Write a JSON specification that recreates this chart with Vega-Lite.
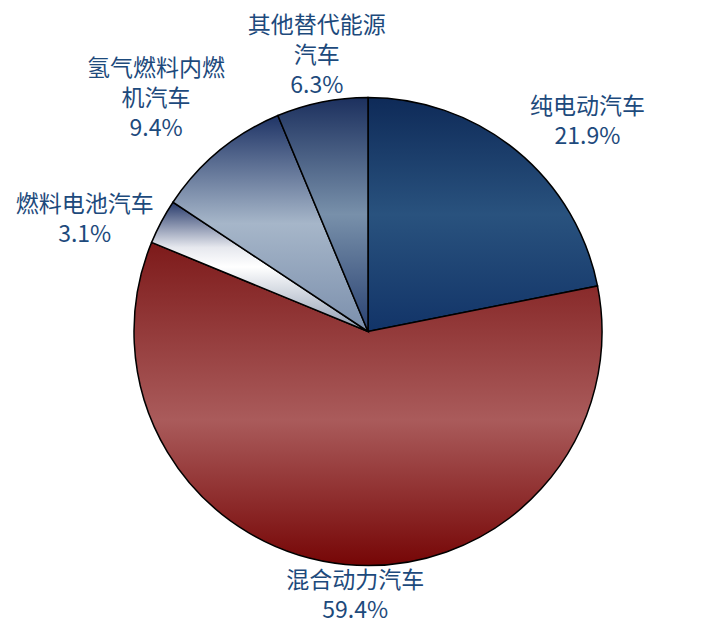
{
  "$schema": "https://vega.github.io/schema/vega-lite/v6.json",
  "width": 702,
  "height": 621,
  "autosize": {"type": "fit", "contains": "padding"},
  "padding": {"left": 32, "top": 35, "right": 0, "bottom": 0},
  "background": "white",
  "config": {"view": {"stroke": null}},
  "data": {
    "values": [
      {"order": 1, "cat": "纯电动汽车", "label": "纯电动汽车\n21.9%", "value": 21.9},
      {"order": 2, "cat": "混合动力汽车", "label": "混合动力汽车\n59.4%", "value": 59.4},
      {"order": 3, "cat": "燃料电池汽车", "label": "燃料电池汽车\n3.1%", "value": 3.1},
      {"order": 4, "cat": "氢气燃料内燃机汽车", "label": "氢气燃料内燃\n机汽车\n9.4%", "value": 9.4},
      {"order": 5, "cat": "其他替代能源汽车", "label": "其他替代能源\n汽车\n6.3%", "value": 6.3}
    ]
  },
  "transform": [
    {"window": [{"op": "sum", "field": "value", "as": "end"}], "sort": [{"field": "order"}], "frame": [null, 0]},
    {"calculate": "datum.end - datum.value", "as": "start"},
    {"calculate": "datum.end - datum.value / 2", "as": "mid"}
  ],
  "layer": [
    {
      "transform": [{"filter": "datum.order == 1"}],
      "mark": {"type": "arc", "radius": 234, "stroke": "#000000", "strokeWidth": 1.5,
        "fill": {"gradient": "linear", "x1": 0, "y1": 0, "x2": 0, "y2": 1,
          "stops": [{"offset": 0, "color": "#0e2a58"}, {"offset": 0.5, "color": "#29527e"}, {"offset": 1, "color": "#123468"}]}},
      "encoding": {
        "theta": {"field": "start", "type": "quantitative", "stack": null, "scale": {"domain": [0, 100.1]}},
        "theta2": {"field": "end"}
      }
    },
    {
      "transform": [{"filter": "datum.order == 2"}],
      "mark": {"type": "arc", "radius": 234, "stroke": "#000000", "strokeWidth": 1.5,
        "fill": {"gradient": "linear", "x1": 0, "y1": 0, "x2": 0, "y2": 1,
          "stops": [{"offset": 0, "color": "#7d1a1a"}, {"offset": 0.55, "color": "#aa5b5b"}, {"offset": 1, "color": "#760606"}]}},
      "encoding": {
        "theta": {"field": "start", "type": "quantitative", "stack": null},
        "theta2": {"field": "end"}
      }
    },
    {
      "transform": [{"filter": "datum.order == 3"}],
      "mark": {"type": "arc", "radius": 234, "stroke": "#000000", "strokeWidth": 1.5,
        "fill": {"gradient": "linear", "x1": 0, "y1": 0, "x2": 0, "y2": 1,
          "stops": [{"offset": 0, "color": "#26396a"}, {"offset": 0.35, "color": "#e6e8ee"}, {"offset": 0.5, "color": "#ffffff"}, {"offset": 1, "color": "#8c9ab0"}]}},
      "encoding": {
        "theta": {"field": "start", "type": "quantitative", "stack": null},
        "theta2": {"field": "end"}
      }
    },
    {
      "transform": [{"filter": "datum.order == 4"}],
      "mark": {"type": "arc", "radius": 234, "stroke": "#000000", "strokeWidth": 1.5,
        "fill": {"gradient": "linear", "x1": 0, "y1": 0, "x2": 0, "y2": 1,
          "stops": [{"offset": 0, "color": "#1f3466"}, {"offset": 0.5, "color": "#a6b6c9"}, {"offset": 1, "color": "#7b8fac"}]}},
      "encoding": {
        "theta": {"field": "start", "type": "quantitative", "stack": null},
        "theta2": {"field": "end"}
      }
    },
    {
      "transform": [{"filter": "datum.order == 5"}],
      "mark": {"type": "arc", "radius": 234, "stroke": "#000000", "strokeWidth": 1.5,
        "fill": {"gradient": "linear", "x1": 0, "y1": 0, "x2": 0, "y2": 1,
          "stops": [{"offset": 0, "color": "#1c305e"}, {"offset": 0.5, "color": "#7890aa"}, {"offset": 1, "color": "#2a4272"}]}},
      "encoding": {
        "theta": {"field": "start", "type": "quantitative", "stack": null},
        "theta2": {"field": "end"}
      }
    },
    {
      "transform": [{"filter": "datum.order == 1"}],
      "mark": {"type": "text", "radius": 305, "dx": 26, "dy": 11.5, "font": "Noto Sans CJK SC", "fontSize": 23, "lineHeight": 30, "lineBreak": "\n", "align": "center", "baseline": "middle", "fill": "#1d4a7c"},
      "encoding": {"theta": {"field": "mid", "type": "quantitative", "stack": null}, "text": {"field": "label"}}
    },
    {
      "transform": [{"filter": "datum.order == 2"}],
      "mark": {"type": "text", "radius": 266, "dx": 13, "dy": -15.5, "font": "Noto Sans CJK SC", "fontSize": 23, "lineHeight": 30, "lineBreak": "\n", "align": "center", "baseline": "middle", "fill": "#1d4a7c"},
      "encoding": {"theta": {"field": "mid", "type": "quantitative", "stack": null}, "text": {"field": "label"}}
    },
    {
      "transform": [{"filter": "datum.order == 3"}],
      "mark": {"type": "text", "radius": 306, "dx": -13, "dy": 16.5, "font": "Noto Sans CJK SC", "fontSize": 23, "lineHeight": 30, "lineBreak": "\n", "align": "center", "baseline": "middle", "fill": "#1d4a7c"},
      "encoding": {"theta": {"field": "mid", "type": "quantitative", "stack": null}, "text": {"field": "label"}}
    },
    {
      "transform": [{"filter": "datum.order == 4"}],
      "mark": {"type": "text", "radius": 314, "dx": -12, "dy": -20, "font": "Noto Sans CJK SC", "fontSize": 23, "lineHeight": 30, "lineBreak": "\n", "align": "center", "baseline": "middle", "fill": "#1d4a7c"},
      "encoding": {"theta": {"field": "mid", "type": "quantitative", "stack": null}, "text": {"field": "label"}}
    },
    {
      "transform": [{"filter": "datum.order == 5"}],
      "mark": {"type": "text", "radius": 281, "dx": 4, "dy": -30, "font": "Noto Sans CJK SC", "fontSize": 23, "lineHeight": 30, "lineBreak": "\n", "align": "center", "baseline": "middle", "fill": "#1d4a7c"},
      "encoding": {"theta": {"field": "mid", "type": "quantitative", "stack": null}, "text": {"field": "label"}}
    }
  ]
}
